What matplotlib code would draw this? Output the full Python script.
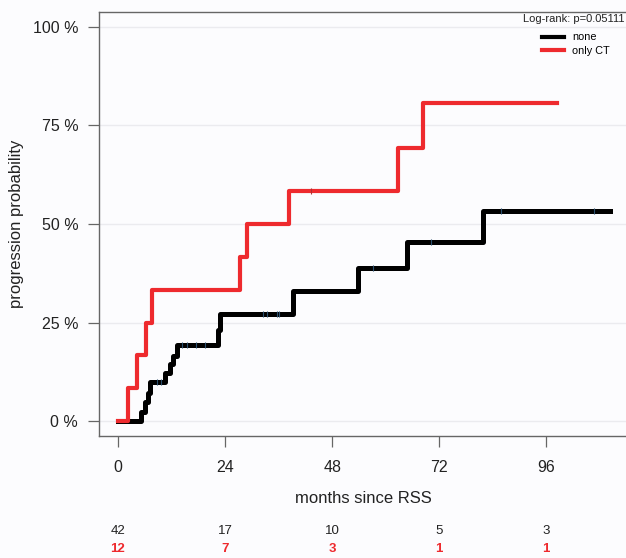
import matplotlib
matplotlib.use("Agg")
import matplotlib.pyplot as plt
import matplotlib.transforms as mtransforms
import numpy as np

plt.rcParams['font.family'] = ['Liberation Sans', 'DejaVu Sans']

# Kaplan-Meier step data (months, cumulative progression probability)
none_t = [0, 5.2, 6.1, 6.7, 7.2, 10.5, 11.7, 12.3, 13.2, 22.4, 22.9, 39.2, 53.8, 64.8, 81.8, 110.3]
none_p = [0, 0.024, 0.048, 0.071, 0.100, 0.123, 0.146, 0.165, 0.192, 0.232, 0.272, 0.330, 0.388, 0.454, 0.533, 0.533]
none_cens_t = [8.8, 9.6, 14.3, 15.5, 17.5, 19.5, 32.5, 33.4, 35.6, 36.1, 57.2, 70.2, 85.9, 106.7]
none_cens_p = [0.100, 0.100, 0.192, 0.192, 0.192, 0.192, 0.272, 0.272, 0.272, 0.272, 0.388, 0.454, 0.533, 0.533]

ct_t = [0, 2.2, 4.3, 6.3, 7.6, 27.4, 28.9, 38.3, 62.8, 68.4, 98.5]
ct_p = [0, 0.083, 0.167, 0.250, 0.333, 0.417, 0.500, 0.583, 0.694, 0.806, 0.806]
ct_cens_t = [43.3]
ct_cens_p = [0.583]

risk_times = [0, 24, 48, 72, 96]
risk_none = [42, 17, 10, 5, 3]
risk_ct = [12, 7, 3, 1, 1]

red = '#ee2a2e'
bg = '#fcfcfe'

fig = plt.figure(figsize=(6.26, 5.58), dpi=100)
fig.patch.set_facecolor(bg)
ax = fig.add_axes([0.1581, 0.2186, 0.845, 0.760])
ax.set_facecolor(bg)

for y in [0, 0.25, 0.5, 0.75, 1.0]:
    ax.axhline(y, color='#ebebef', lw=1, zorder=0)

ax.step(none_t, none_p, where='post', color='black', lw=3.6, label='none', zorder=2)
ax.plot(none_cens_t, none_cens_p, '|', color='#2b4f6e', ms=4, mew=0.8, zorder=3)
ax.step(ct_t, ct_p, where='post', color=red, lw=3.0, label='only CT', zorder=4)
ax.plot(ct_cens_t, ct_cens_p, '|', color='#b03030', ms=4, mew=0.8, zorder=5)

ax.set_xlim(-4.26, 114.3)
ax.set_ylim(-0.038, 1.038)
ax.set_xticks(risk_times)
ax.set_yticks([0, 0.25, 0.5, 0.75, 1.0])
ax.set_yticklabels(['0 %', '25 %', '50 %', '75 %', '100 %'])
ax.tick_params(axis='both', labelsize=11.5, colors='#222222', length=8, width=0.9)
ax.tick_params(axis='y', pad=7, color='#666666')
ax.tick_params(axis='x', pad=9, color='#666666')
for s in ax.spines.values():
    s.set_color('#666666')
    s.set_linewidth(1.0)

ax.set_xlabel('months since RSS', fontsize=12, color='#222222', labelpad=12)
ax.set_ylabel('progression probability', fontsize=12, color='#222222', labelpad=6)

fig.text(0.998, 0.966, 'Log-rank: p=0.05111', ha='right', va='center', fontsize=8, color='#222222')

leg = ax.legend(loc='upper left', bbox_to_anchor=(0.866, 0.942), bbox_transform=fig.transFigure,
                frameon=False, fontsize=7.8, handlelength=2.0, handletextpad=0.8,
                borderpad=0, borderaxespad=0, labelspacing=0.35)
for line in leg.get_lines():
    line.set_linewidth(3)

trans = mtransforms.blended_transform_factory(ax.transData, fig.transFigure)
for t, n1, n2 in zip(risk_times, risk_none, risk_ct):
    ax.text(t, 1 - 531 / 558, str(n1), transform=trans, ha='center', va='center',
            fontsize=9.5, color='#222222', clip_on=False)
    ax.text(t, 1 - 549 / 558, str(n2), transform=trans, ha='center', va='center',
            fontsize=9.5, color=red, fontweight='bold', clip_on=False)

fig.savefig('out.png', dpi=100, facecolor=bg)
